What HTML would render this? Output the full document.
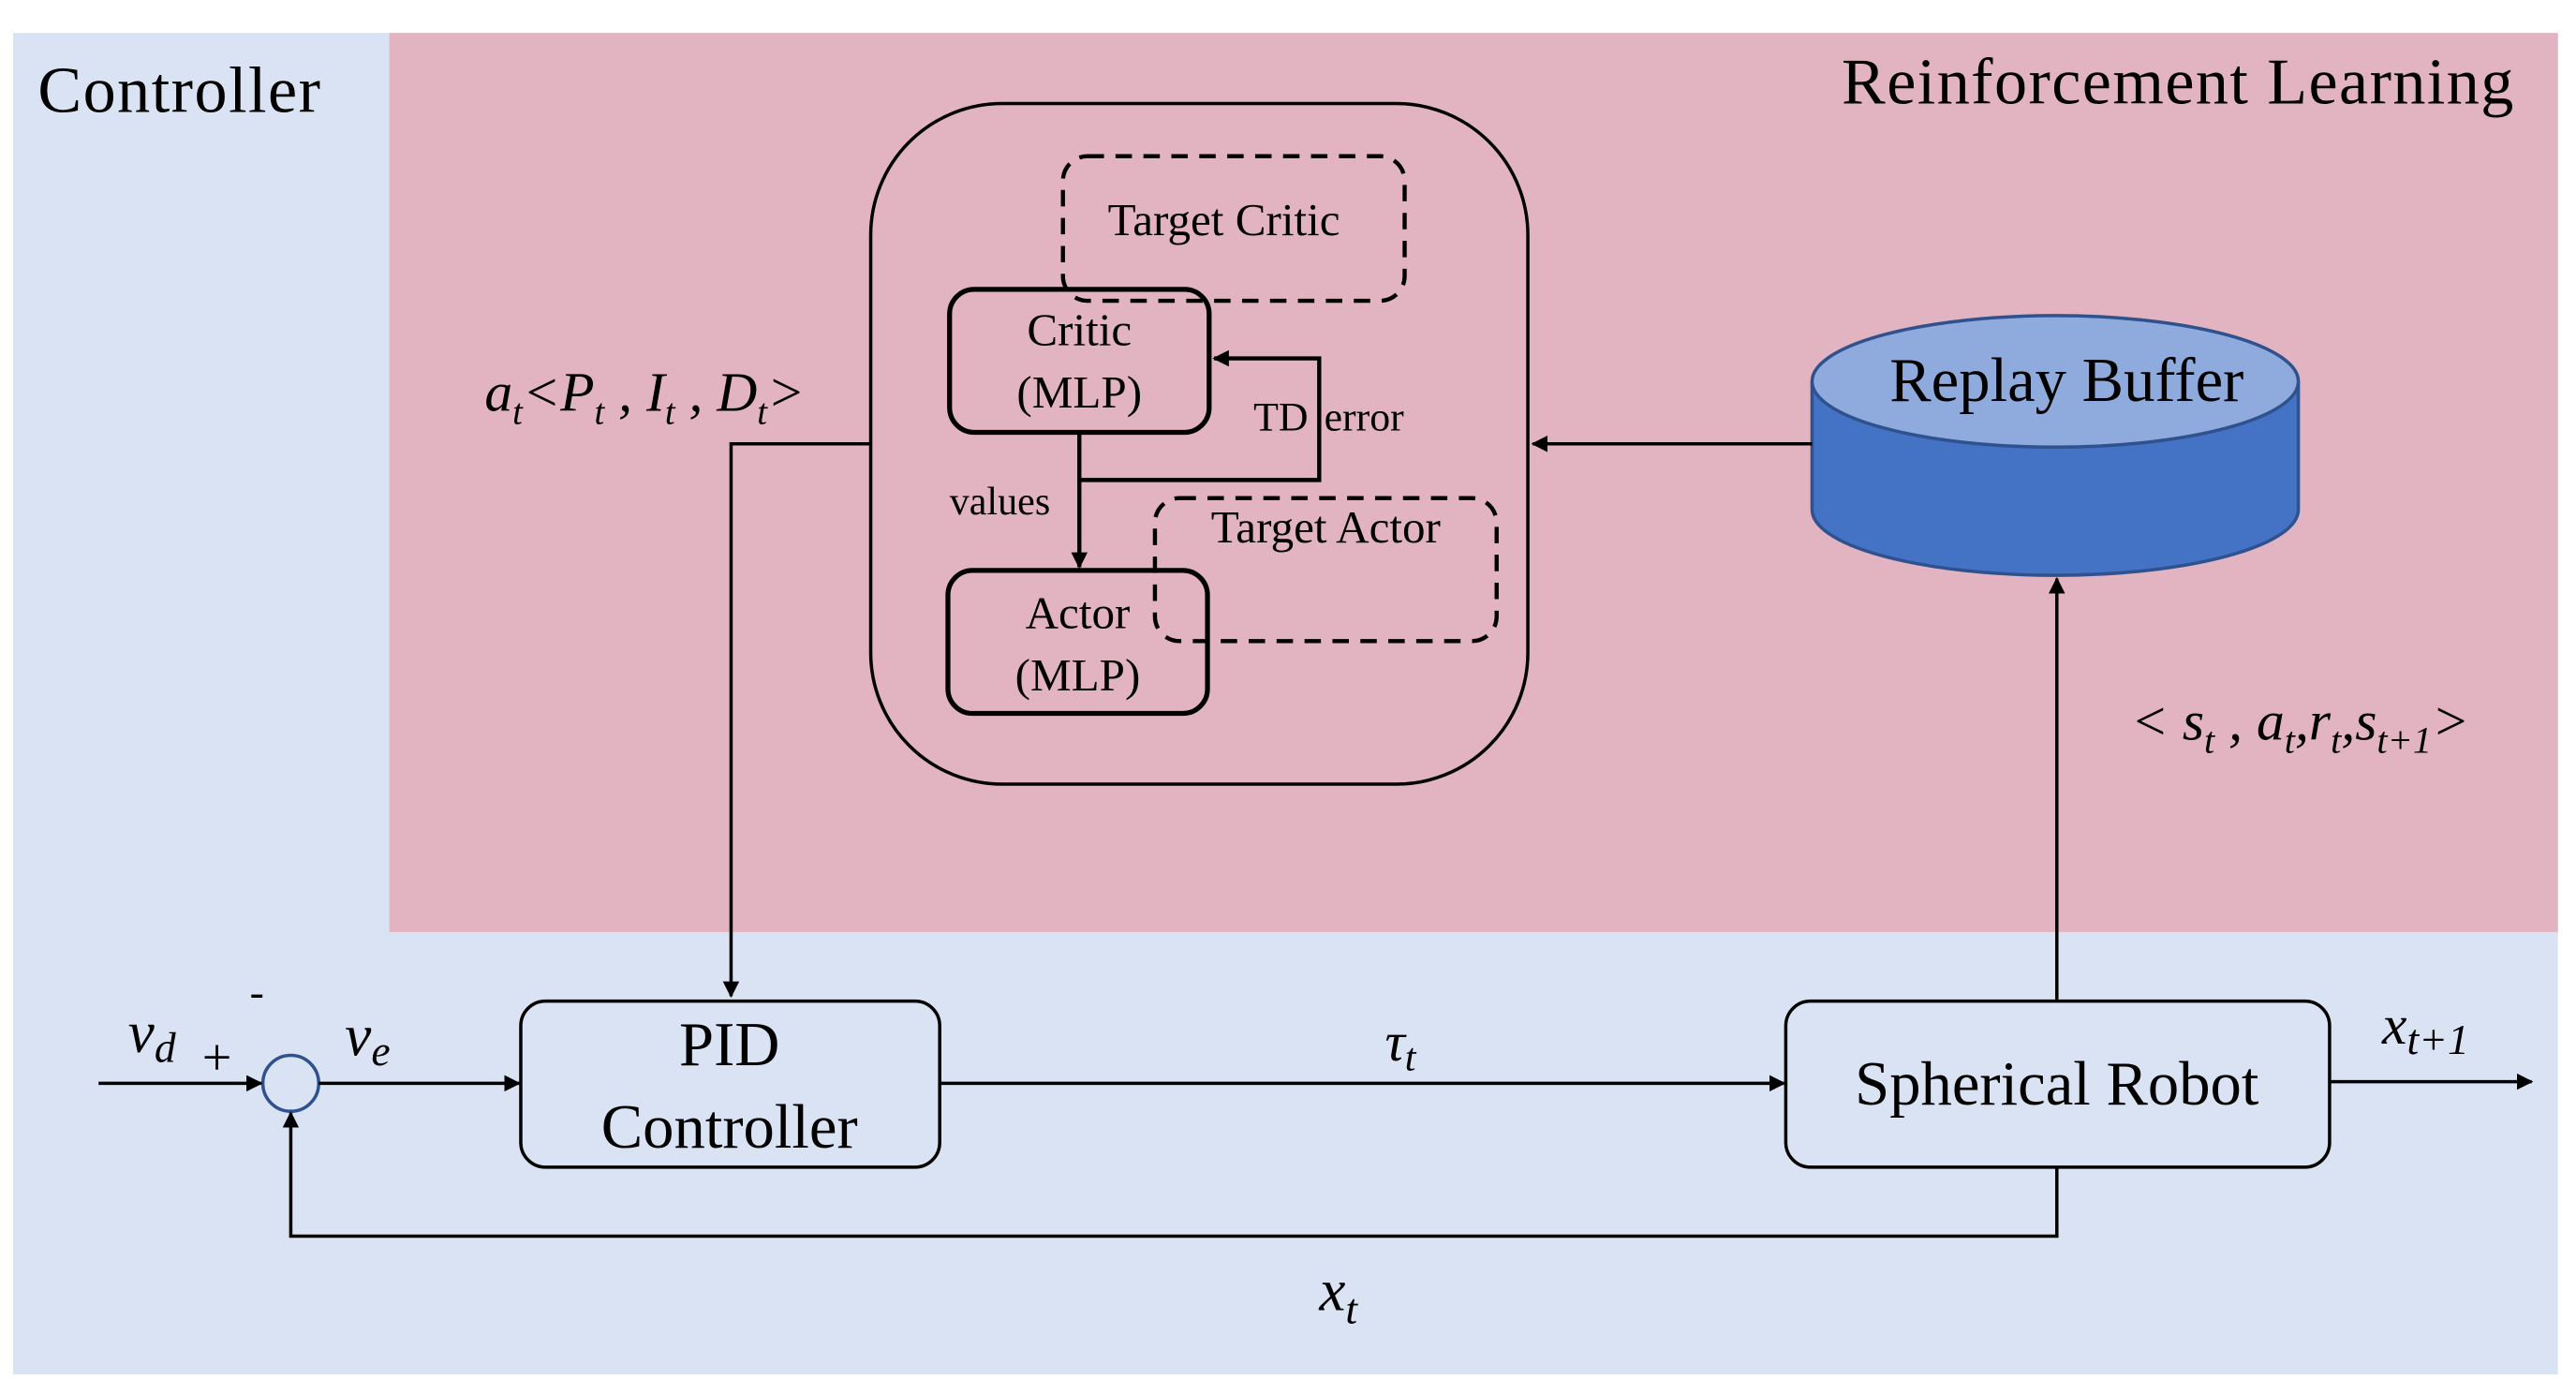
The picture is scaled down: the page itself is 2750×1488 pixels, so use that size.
<!DOCTYPE html>
<html><head><meta charset="utf-8"><style>html,body{margin:0;padding:0;background:#fff}svg{display:block}</style></head>
<body>
<svg width="2750" height="1488" viewBox="0 0 1568 848" preserveAspectRatio="none" xmlns="http://www.w3.org/2000/svg" font-family="Liberation Serif, serif">
<defs>
<marker id="ah" markerWidth="10" markerHeight="10" refX="9" refY="5" orient="auto" markerUnits="userSpaceOnUse"><path d="M0,0 L10,5 L0,10 z" fill="#000"/></marker>
</defs>
<rect x="0" y="0" width="1568" height="848" fill="#fff"/>
<rect x="8" y="20" width="1549" height="816" fill="#dae3f3"/>
<rect x="237" y="20" width="1320" height="547" fill="#e2b4c1"/>
<text x="23" y="68" font-size="40" textLength="172">Controller</text>
<text x="1121" y="63" font-size="40" textLength="409">Reinforcement Learning</text>
<rect x="530" y="63" width="400" height="414" rx="80" fill="none" stroke="#000" stroke-width="2"/>
<rect x="647" y="95" width="208" height="88" rx="15" fill="none" stroke="#000" stroke-width="2.5" stroke-dasharray="10,7"/>
<text x="745" y="143" font-size="28" text-anchor="middle">Target Critic</text>
<rect x="578" y="176" width="158" height="87" rx="15" fill="none" stroke="#000" stroke-width="3"/>
<text x="657" y="210" font-size="28" text-anchor="middle">Critic</text>
<text x="657" y="248" font-size="28" text-anchor="middle">(MLP)</text>
<polyline points="657,263 657,292 803,292 803,218 739,218" fill="none" stroke="#000" stroke-width="2.5" marker-end="url(#ah)"/>
<text x="763" y="262" font-size="25">TD</text>
<text x="806" y="262" font-size="25">error</text>
<line x1="657" y1="292" x2="657" y2="345" stroke="#000" stroke-width="2.5" marker-end="url(#ah)"/>
<text x="578" y="313" font-size="24">values</text>
<rect x="703" y="303" width="208" height="87" rx="15" fill="none" stroke="#000" stroke-width="2.5" stroke-dasharray="10,7"/>
<text x="807" y="330" font-size="28" text-anchor="middle">Target Actor</text>
<rect x="577" y="347" width="158" height="87" rx="15" fill="none" stroke="#000" stroke-width="3"/>
<text x="656" y="382" font-size="28" text-anchor="middle">Actor</text>
<text x="656" y="420" font-size="28" text-anchor="middle">(MLP)</text>
<polyline points="530,270 445,270 445,606" fill="none" stroke="#000" stroke-width="2" marker-end="url(#ah)"/>
<text x="295" y="250" font-size="34" font-style="italic">a<tspan font-size="22" dy="8">t</tspan><tspan dy="-8">&lt;P</tspan><tspan font-size="22" dy="8">t</tspan><tspan dy="-8"> , I</tspan><tspan font-size="22" dy="8">t</tspan><tspan dy="-8"> ,  D</tspan><tspan font-size="22" dy="8">t</tspan><tspan dy="-8">&gt;</tspan></text>
<path d="M1103,232 L1103,310 A148,40 0 0 0 1399,310 L1399,232" fill="#4472c4" stroke="#2f528f" stroke-width="2"/>
<ellipse cx="1251" cy="232" rx="148" ry="40" fill="#8faadc" stroke="#2f528f" stroke-width="2"/>
<text x="1258" y="244" font-size="38" text-anchor="middle">Replay Buffer</text>
<line x1="1103" y1="270" x2="933" y2="270" stroke="#000" stroke-width="2" marker-end="url(#ah)"/>
<line x1="1252" y1="608" x2="1252" y2="352" stroke="#000" stroke-width="2" marker-end="url(#ah)"/>
<text x="1297" y="450" font-size="34" font-style="italic">&lt; s<tspan font-size="23" dy="8">t</tspan><tspan dy="-8"> , a</tspan><tspan font-size="23" dy="8">t</tspan><tspan dy="-8">,r</tspan><tspan font-size="23" dy="8">t</tspan><tspan dy="-8">,s</tspan><tspan font-size="23" dy="8">t+1</tspan><tspan dy="-8">&gt;</tspan></text>
<rect x="317" y="609" width="255" height="101" rx="15" fill="#dae3f3" stroke="#000" stroke-width="2"/>
<text x="444" y="648" font-size="38" text-anchor="middle">PID</text>
<text x="444" y="698" font-size="38" text-anchor="middle">Controller</text>
<rect x="1087" y="609" width="331" height="101" rx="15" fill="#dae3f3" stroke="#000" stroke-width="2"/>
<text x="1252" y="672" font-size="38" text-anchor="middle">Spherical Robot</text>
<circle cx="177" cy="659" r="17" fill="none" stroke="#2f528f" stroke-width="2"/>
<line x1="60" y1="659" x2="159" y2="659" stroke="#000" stroke-width="2" marker-end="url(#ah)"/>
<text x="78" y="640" font-size="36" font-style="italic">v<tspan font-size="26" dy="6">d</tspan></text>
<text x="123" y="654" font-size="32">+</text>
<text x="152" y="612" font-size="26">-</text>
<text x="210" y="642" font-size="36" font-style="italic">v<tspan font-size="26" dy="6">e</tspan></text>
<line x1="194" y1="659" x2="316" y2="659" stroke="#000" stroke-width="2" marker-end="url(#ah)"/>
<text x="843" y="645" font-size="34" font-style="italic">τ<tspan font-size="24" dy="6">t</tspan></text>
<line x1="572" y1="659" x2="1086" y2="659" stroke="#000" stroke-width="2" marker-end="url(#ah)"/>
<text x="1450" y="635" font-size="34" font-style="italic">x<tspan font-size="26" dy="6">t+1</tspan></text>
<line x1="1418" y1="658" x2="1541" y2="658" stroke="#000" stroke-width="2" marker-end="url(#ah)"/>
<polyline points="1252,710 1252,752 177,752 177,677" fill="none" stroke="#000" stroke-width="2" marker-end="url(#ah)"/>
<text x="803" y="797" font-size="36" font-style="italic">x<tspan font-size="26" dy="8">t</tspan></text>
</svg>
</body></html>
